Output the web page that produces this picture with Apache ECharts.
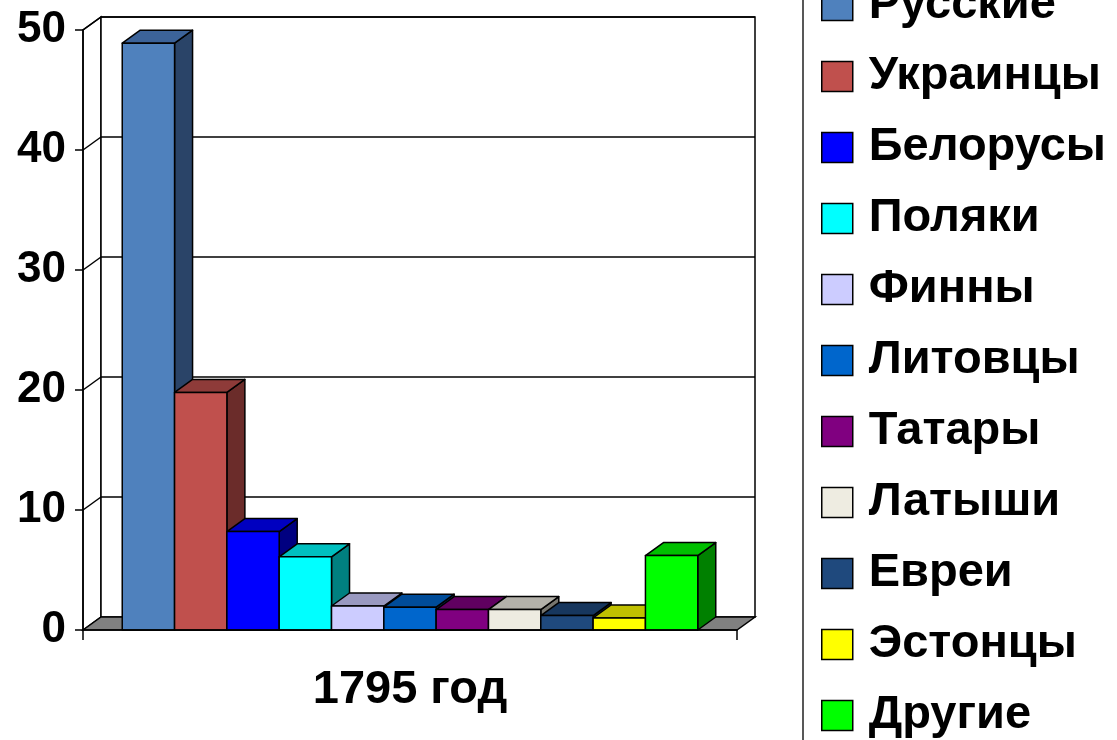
<!DOCTYPE html>
<html><head><meta charset="utf-8">
<script src="https://cdn.jsdelivr.net/npm/echarts@6/dist/echarts.min.js"></script>
<style>html,body{margin:0;padding:0;background:#fff}#c{width:1117px;height:740px}</style>
</head><body><div id="c"></div>
<script>
const categories = ['1795 год'];
const groups = ['Русские','Украинцы','Белорусы','Поляки','Финны','Литовцы','Татары','Латыши','Евреи','Эстонцы','Другие'];
const values = [48.9, 19.8, 8.2, 6.1, 2.0, 1.9, 1.7, 1.7, 1.2, 1.0, 6.2];
const yTicks = [0, 10, 20, 30, 40, 50];
const frontColors = ['#4F81BD','#C0504D','#0000FF','#00FFFF','#CCCCFF','#0066CC','#800080','#EEECE1','#1F497D','#FFFF00','#00FF00'];
const topColors   = ['#3C6399','#8E3B39','#0000C0','#00C0C0','#9999C0','#004C99','#600060','#B3B1A9','#17375E','#C0C000','#00C000'];
const sideColors  = ['#2A4468','#6B2C2A','#000080','#008080','#66667F','#003366','#400040','#77766F','#0F253F','#808000','#008000'];

const DX = 18, DY = 13, GAP = 0.12, EDGE = '#000', LW = 1.5;

function wallsRender(params, api) {
  const cs = params.coordSys;
  const L = cs.x, R = cs.x + cs.width;
  const y0 = api.coord([0, 0])[1];
  const yTop = api.coord([0, yTicks[yTicks.length - 1]])[1];
  const ch = [];
  ch.push({type:'polygon', shape:{points:[[L,y0],[L,yTop],[L+DX,yTop-DY],[L+DX,y0-DY]]}, style:{fill:'#fff', stroke:EDGE, lineWidth:LW}});
  ch.push({type:'rect', shape:{x:L+DX, y:yTop-DY, width:R-L, height:y0-yTop}, style:{fill:'#fff', stroke:EDGE, lineWidth:LW}});
  ch.push({type:'polygon', shape:{points:[[L,y0],[L+DX,y0-DY],[R+DX,y0-DY],[R,y0]]}, style:{fill:'#808080', stroke:EDGE, lineWidth:LW}});
  yTicks.forEach(v => {
    const y = api.coord([0, v])[1];
    if (v > 0) {
      ch.push({type:'line', shape:{x1:L+DX, y1:y-DY, x2:R+DX, y2:y-DY}, style:{stroke:EDGE, lineWidth:LW}});
      ch.push({type:'line', shape:{x1:L, y1:y, x2:L+DX, y2:y-DY}, style:{stroke:EDGE, lineWidth:LW}});
    }
  });
  return {type:'group', children: ch};
}

function barRender(idx) {
  return function(params, api) {
    const cs = params.coordSys;
    const band = cs.width / categories.length;
    const cx = api.coord([api.value(0), 0])[0];
    const total = band * (1 - GAP);
    const w = total / groups.length;
    const x0 = cx - total / 2 + idx * w;
    const y0 = api.coord([0, 0])[1];
    const yt = api.coord([0, api.value(1)])[1];
    const st = {stroke:EDGE, lineWidth:LW, lineJoin:'round'};
    return {type:'group', children:[
      {type:'polygon', shape:{points:[[x0+w,yt],[x0+w+DX,yt-DY],[x0+w+DX,y0-DY],[x0+w,y0]]}, style:Object.assign({fill:sideColors[idx]}, st)},
      {type:'polygon', shape:{points:[[x0,yt],[x0+DX,yt-DY],[x0+w+DX,yt-DY],[x0+w,yt]]}, style:Object.assign({fill:topColors[idx]}, st)},
      {type:'rect', shape:{x:x0, y:yt, width:w, height:y0-yt}, style:Object.assign({fill:frontColors[idx]}, st)}
    ]};
  };
}

const series = [{
  type:'custom', name:'walls', renderItem: wallsRender, data:[[0,0]], z:1, silent:true,
  encode:{x:0, y:1}
}];
groups.forEach((g, i) => {
  series.push({
    type:'custom', name:g, renderItem: barRender(i), z:2,
    itemStyle:{color: frontColors[i]},
    data:[[0, values[i]]], encode:{x:0, y:1}
  });
});

const chart = echarts.init(document.getElementById('c'), null, {renderer:'canvas'});
chart.setOption({
  animation:false,
  backgroundColor:'#fff',
  grid:{left:83, right:380, top:30, bottom:110},
  xAxis:{type:'category', data:categories, boundaryGap:true,
    axisLine:{show:true, lineStyle:{color:'#000', width:1.5}},
    axisTick:{show:true, length:10, lineStyle:{color:'#000', width:1.5}},
    axisLabel:{margin:37, fontSize:47, fontWeight:'bold', fontFamily:'Liberation Sans', color:'#000'},
    splitLine:{show:false}, z:5},
  yAxis:{type:'value', min:0, max:50, interval:10,
    axisLine:{show:true, lineStyle:{color:'#000', width:1.5}},
    axisTick:{show:true, length:8, lineStyle:{color:'#000', width:1.5}},
    axisLabel:{margin:17, fontSize:44, fontWeight:'bold', fontFamily:'Liberation Sans', color:'#000', padding:[4,0,0,0]},
    splitLine:{show:false}, z:5},
  legend:{orient:'vertical', left:803, top:-18, height:900, padding:[0,30,60,18],
    data: groups,
    icon:'rect', itemWidth:31, itemHeight:30, itemGap:24,
    borderColor:'#222', borderWidth:1.5,
    itemStyle:{borderColor:'#000', borderWidth:1.5},
    textStyle:{fontSize:47, lineHeight:46, fontWeight:'bold', fontFamily:'Liberation Sans', color:'#000', padding:[0,0,0,11]}
  },
  series: series
});
</script></body></html>
